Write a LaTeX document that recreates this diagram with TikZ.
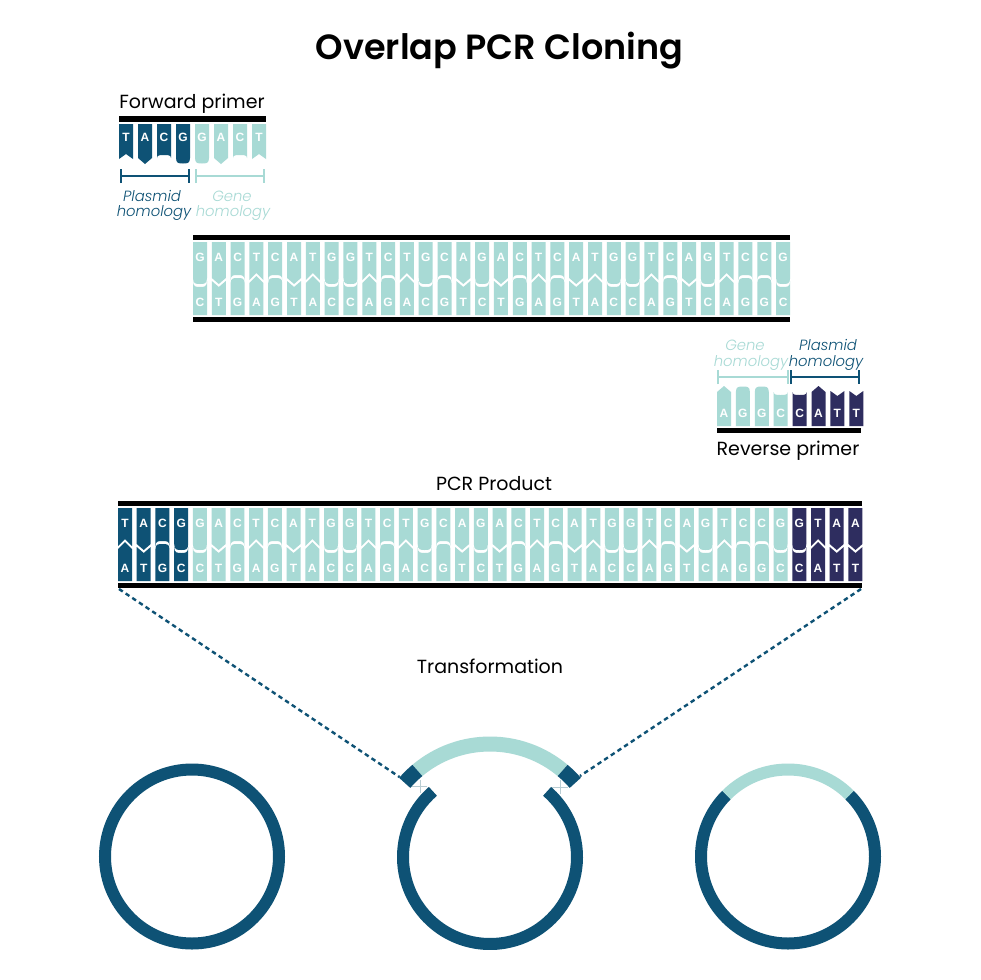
\documentclass[tikz,border=0pt]{standalone}
\usepackage{fontspec}
\usetikzlibrary{arrows.meta}
\setmainfont{Poppins}
\newfontfamily\basefont{Liberation Sans}
\newfontfamily\titlefont{Poppins SemiBold}
\newfontfamily\lightfont{Poppins Light}[ItalicFont=Poppins Light Italic]
\definecolor{dk}{HTML}{0E5275}
\definecolor{lt}{HTML}{A8DAD5}
\definecolor{nv}{HTML}{2E2D5F}
\definecolor{cr}{HTML}{B9CDD3}
\tikzset{
  baselabel/.style={text=white,font=\basefont\bfseries\fontsize{12}{12}\selectfont,inner sep=0pt,anchor=center},
  blackbar/.style={fill=black,draw=none},
  lbl/.style={font=\fontsize{19}{19}\selectfont,inner sep=0pt,anchor=center,text=black},
  itl/.style={font=\lightfont\itshape\fontsize{14.8}{14.8}\selectfont,inner sep=0pt,anchor=center},
  ringdk/.style={draw=dk,line width=12pt},
  ringlt/.style={draw=lt,line width=12pt},
  insertdk/.style={draw=dk,line width=15pt},
  insertlt/.style={draw=lt,line width=15pt},
  brk/.style={line width=2pt,{Bar[width=14pt,line width=2pt]}-{Bar[width=14pt,line width=2pt]}},
  dashline/.style={draw=dk,line width=2.4pt,dash pattern=on 4.5pt off 3.5pt},
  thincross/.style={draw=cr,line width=0.7pt}
}
% profile tables: e=edge, c=centre distance from the base's flat end
\def\esA{34}\def\csA{40}\def\esT{35}\def\csT{30}\def\esC{34}\def\csC{31}\def\esG{34}\def\csG{39.5}
\def\etA{36}\def\ctA{42}\def\etT{38}\def\ctT{31}\def\etC{38}\def\ctC{33}\def\etG{36}\def\ctG{42}
\def\ebA{32}\def\cbA{39}\def\ebT{34}\def\cbT{28}\def\ebC{34}\def\cbC{28}\def\ebG{32}\def\cbG{37}
\def\bw{14}
\newcount\bn
\newcommand\onebase[7]{%
  \pgfmathsetmacro\ee{#2+#3*\csname e#4#5\endcsname}%
  \pgfmathsetmacro\cc{#2+#3*\csname c#4#5\endcsname}%
  \pgfmathsetmacro\xm{#1+\bw/2}%
  \pgfmathsetmacro\xr{#1+\bw}%
  \pgfmathsetmacro\ly{#2+#3*#7}%
  \if A#5\relax
    \fill[#6] (#1,#2) -- (\xr,#2) -- (\xr,\ee) -- (\xm,\cc) -- (#1,\ee) -- cycle;
  \else\if T#5\relax
    \fill[#6] (#1,#2) -- (\xr,#2) -- (\xr,\ee) -- (\xm,\cc) -- (#1,\ee) -- cycle;
  \else
    \fill[#6] (#1,#2) -- (\xr,#2) -- (\xr,\ee) .. controls (\xr,\cc) and ({\xr-3},\cc) .. (\xm,\cc) .. controls ({#1+3},\cc) and (#1,\cc) .. (#1,\ee) -- cycle;
  \fi\fi
  \global\advance\bn by 1
  \node[baselabel] (base\the\bn) at (\xm,\ly) {#5};%
}
% x0, pitch, y0, dir, prefix, label offset, letters; colour from macro \colfor
\newcommand\strand[7]{%
  \foreach \L [count=\i from 0] in {#7}{%
    \pgfmathsetmacro\xx{#1+\i*#2}%
    \colfor{\i}%
    \onebase{\xx}{#3}{#4}{#5}{\L}{\thecol}{#6}%
  }%
}
\begin{document}
\begin{tikzpicture}[x=1pt,y=-1pt]
\useasboundingbox (0,0) rectangle (980,980);
\fill[white] (0,0) rectangle (980,980);

\node[inner sep=0pt,font=\titlefont\fontsize{35}{35}\selectfont] (title) at (499.5,50.5) {Overlap PCR Cloning};

% forward primer
\node[lbl] (fwd) at (192,104) {Forward primer};
\fill[blackbar] (119,116) rectangle (266,122);
\def\colfor#1{\ifnum#1<4 \def\thecol{dk}\else\def\thecol{lt}\fi}
\strand{119}{19}{124}{1}{s}{13}{T,A,C,G,G,A,C,T}
\coordinate (b1l) at (120,176); \coordinate (b1r) at (190,176);
\coordinate (b2l) at (195,176); \coordinate (b2r) at (265,176);
\draw[brk,dk] (b1l) -- (b1r);
\draw[brk,lt] (b2l) -- (b2r);
\node[itl,text=dk] (ph1) at (152,196) {Plasmid};
\node[itl,text=dk] (ph2) at (154,213) {homology};
\node[itl,text=lt] (gh1) at (232,196) {Gene};
\node[itl,text=lt] (gh2) at (233,213) {homology};

% gene double strand
\fill[blackbar] (193,234.5) rectangle (790,240);
\fill[blackbar] (193,317) rectangle (790,322);
\def\colfor#1{\def\thecol{lt}}
\strand{193}{18.81}{242}{1}{t}{15}{G,A,C,T,C,A,T,G,G,T,C,T,G,C,A,G,A,C,T,C,A,T,G,G,T,C,A,G,T,C,C,G}
\strand{193}{18.81}{315}{-1}{b}{13}{C,T,G,A,G,T,A,C,C,A,G,A,C,G,T,C,T,G,A,G,T,A,C,C,A,G,T,C,A,G,G,C}

% reverse primer
\node[itl,text=lt] (gh3) at (745,345) {Gene};
\node[itl,text=lt] (gh4) at (751,363) {homology};
\node[itl,text=dk] (ph3) at (828,345) {Plasmid};
\node[itl,text=dk] (ph4) at (826,363) {homology};
\coordinate (b3l) at (717,377); \coordinate (b3r) at (789,377);
\coordinate (b4l) at (790,377); \coordinate (b4r) at (860,377);
\draw[brk,lt] (b3l) -- (b3r);
\draw[brk,dk] (b4l) -- (b4r);
\def\colfor#1{\ifnum#1<4 \def\thecol{lt}\else\def\thecol{nv}\fi}
\strand{717}{18.9}{426}{-1}{s}{13}{A,G,G,C,C,A,T,T}
\fill[blackbar] (717,428) rectangle (861,433);
\node[lbl] (rev) at (788,451) {Reverse primer};

% PCR product
\node[lbl] (pcr) at (494,484) {PCR Product};
\fill[blackbar] (118,500.5) rectangle (862,506);
\fill[blackbar] (118,583) rectangle (862,588);
\def\colfor#1{\ifnum#1<4 \def\thecol{dk}\else\ifnum#1<36 \def\thecol{lt}\else\def\thecol{nv}\fi\fi}
\strand{118}{18.73}{508}{1}{t}{15}{T,A,C,G,G,A,C,T,C,A,T,G,G,T,C,T,G,C,A,G,A,C,T,C,A,T,G,G,T,C,A,G,T,C,C,G,G,T,A,A}
\strand{118}{18.73}{581}{-1}{b}{13}{A,T,G,C,C,T,G,A,G,T,A,C,C,A,G,A,C,G,T,C,T,G,A,G,T,A,C,C,A,G,T,C,A,G,G,C,C,A,T,T}

\node[lbl] (trf) at (490,666) {Transformation};

% circles (y axis points down, so screen angles are negated)
\coordinate (c1) at (192,856.5);
\coordinate (c2) at (490,857);
\coordinate (c3) at (788,856.5);
\draw[ringdk] (c1) circle (87);
% centre circle: open ring and insert
\draw[ringdk] (c2) ++(-131:87) arc[start angle=-131,delta angle=-278,radius=87];
\draw[insertlt] (c2) ++(-130:113) arc[start angle=-130,end angle=-50,radius=113];
\draw[insertdk] (c2) ++(-139:113) arc[start angle=-139,end angle=-130,radius=113];
\draw[insertdk] (c2) ++(-50:113) arc[start angle=-50,end angle=-41,radius=113];
\draw[thincross] (412,786) -- (427,786) (420,780) -- (420,793);
\draw[thincross] (552,787) -- (568,787) (560,780) -- (560,794);
% dashed links
\coordinate (pl) at (119,589); \coordinate (pr) at (861,589);
\coordinate (dl) at (399.5,777); \coordinate (dr) at (580,776);
\draw[dashline] (pl) -- (dl);
\draw[dashline] (pr) -- (dr);
% right circle
\draw[ringdk] (c3) ++(-135:87) arc[start angle=-135,delta angle=-270,radius=87];
\draw[ringlt] (c3) ++(-135:87) arc[start angle=-135,end angle=-45,radius=87];
\end{tikzpicture}
\end{document}
